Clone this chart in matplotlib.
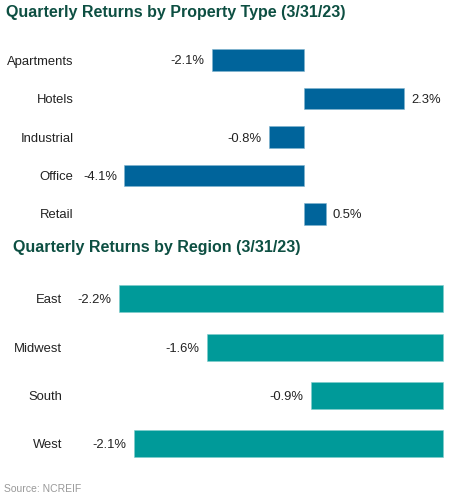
import matplotlib.pyplot as plt

plt.rcParams["font.family"] = ["Liberation Sans", "DejaVu Sans"]
plt.rcParams["figure.dpi"] = 100

property_types = ["Apartments", "Hotels", "Industrial", "Office", "Retail"]
property_returns = [-2.1, 2.3, -0.8, -4.1, 0.5]

regions = ["East", "Midwest", "South", "West"]
region_returns = [-2.2, -1.6, -0.9, -2.1]

title_color = "#0d4f42"
text_color = "#222222"


def value_labels(ax, values, pad):
    for i, v in enumerate(values):
        off = pad if v >= 0 else -pad
        ax.annotate(f"{v:.1f}%", (v, i), xytext=(off, 0), textcoords="offset points",
                    ha="left" if v >= 0 else "right", va="center_baseline",
                    fontsize=9.4, color=text_color)


fig = plt.figure(figsize=(4.5, 5))
fig.patch.set_facecolor("white")

# top panel: property type
ax1 = fig.add_axes([100 / 450, 1 - 233.25 / 500, 320 / 450, 192.5 / 500])
ax1.barh(range(len(property_types)), property_returns, height=0.56,
         color="#00649b", edgecolor="#7fb3cf", linewidth=0.4)
ax1.set_xlim(-4.651, 2.655)
ax1.set_ylim(len(property_types) - 0.5, -0.5)
ax1.set_yticks(range(len(property_types)))
ax1.set_yticklabels(property_types, fontsize=9.4, color=text_color, va="center_baseline")
ax1.tick_params(axis="y", length=0, pad=19)
ax1.set_xticks([])
value_labels(ax1, property_returns, 5)
for s in ax1.spines.values():
    s.set_visible(False)

# bottom panel: region
ax2 = fig.add_axes([70 / 450, 1 - 467.6 / 500, 375 / 450, 192.7 / 500])
ax2.barh(range(len(regions)), region_returns, height=0.56,
         color="#009a99", edgecolor="#80cccc", linewidth=0.4)
ax2.set_xlim(-2.531, 0.011)
ax2.set_ylim(len(regions) - 0.5, -0.5)
ax2.set_yticks(range(len(regions)))
ax2.set_yticklabels(regions, fontsize=9.4, color=text_color, va="center_baseline")
ax2.tick_params(axis="y", length=0, pad=5.5)
ax2.set_xticks([])
value_labels(ax2, region_returns, 5.5)
for s in ax2.spines.values():
    s.set_visible(False)

fig.text(6 / 450, 1 - 16.7 / 500, "Quarterly Returns by Property Type (3/31/23)",
         fontsize=11.5, fontweight="bold", color=title_color, va="baseline")
fig.text(13 / 450, 1 - 252 / 500, "Quarterly Returns by Region (3/31/23)",
         fontsize=11.5, fontweight="bold", color=title_color, va="baseline")
fig.text(3.5 / 450, 1 - 492 / 500, "Source: NCREIF",
         fontsize=7.5, color="#999999", va="baseline")

fig.savefig("out.png", dpi=100, facecolor="white")
